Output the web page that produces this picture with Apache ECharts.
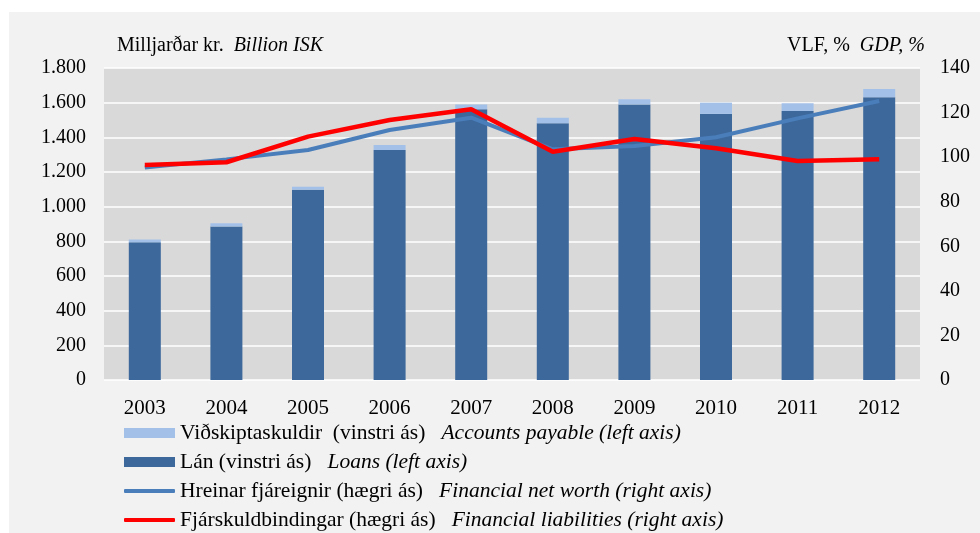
<!DOCTYPE html>
<html>
<head>
<meta charset="utf-8">
<script src="https://cdn.jsdelivr.net/npm/echarts@6/dist/echarts.min.js"></script>
<style>
html,body{margin:0;padding:0;background:#fff;}
#c{width:980px;height:533px;}
</style>
</head>
<body>
<div id="c"></div>
<script>
const years = ['2003','2004','2005','2006','2007','2008','2009','2010','2011','2012'];
const loans = [795, 885, 1098, 1327, 1562, 1481, 1590, 1535, 1552, 1631];
const accountsPayable = [15, 20, 17, 29, 28, 32, 29, 65, 44, 48];
const netWorth = [95.4, 99.0, 103.2, 112.2, 117.7, 103.5, 105.0, 108.9, 117.4, 125.2];
const liabilities = [96.5, 97.7, 109.2, 116.7, 121.5, 102.4, 108.1, 104.0, 98.3, 99.0];

const seriesNames = ['Viðskiptaskuldir  (vinstri ás)', 'Lán (vinstri ás)', 'Hreinar fjáreignir (hægri ás)', 'Fjárskuldbindingar (hægri ás)'];
const seriesNamesEn = ['Accounts payable (left axis)', 'Loans (left axis)', 'Financial net worth (right axis)', 'Financial liabilities (right axis)'];
const leftTitle = ['Milljarðar kr.', 'Billion ISK'];
const rightTitle = ['VLF, %', 'GDP, %'];

const FONT = '"Liberation Serif", "Times New Roman", serif';
const chart = echarts.init(document.getElementById('c'), null, {renderer: 'canvas'});

function fmtThousands(v) {
  return String(v).replace(/\B(?=(\d{3})+(?!\d))/g, '.');
}

const legendText = {
  fontFamily: FONT, fontSize: 21.5, color: '#000', lineHeight: 24,
  rich: {
    r: {fontFamily: FONT, fontSize: 21.5, color: '#000', lineHeight: 24},
    i: {fontFamily: FONT, fontSize: 21.5, color: '#000', fontStyle: 'italic', lineHeight: 24}
  }
};
function legendFmt(name) {
  const i = seriesNames.indexOf(name);
  return '{r|' + name + '}   {i|' + seriesNamesEn[i] + '}';
}
const titleRich = {
  r: {fontFamily: FONT, fontSize: 20, fill: '#000'},
  i: {fontFamily: FONT, fontSize: 20, fontStyle: 'italic', fill: '#000'}
};

chart.setOption({
  animation: false,
  backgroundColor: '#ffffff',
  textStyle: {fontFamily: FONT, color: '#000'},
  graphic: [
    {type: 'rect', z: -100, shape: {x: 9, y: 12, width: 971, height: 521}, style: {fill: '#f2f2f2'}, silent: true},
    {type: 'text', left: 117, top: 36, style: {
      text: '{r|' + leftTitle[0] + '}   {i|' + leftTitle[1] + '}', rich: titleRich
    }},
    {type: 'text', right: 55, top: 36, style: {
      text: '{r|' + rightTitle[0] + '}   {i|' + rightTitle[1] + '}', rich: titleRich
    }}
  ],
  grid: {left: 104, right: 60, top: 68, bottom: 153, show: true, backgroundColor: '#d9d9d9', borderWidth: 0},
  legend: [
    {
      orient: 'vertical', left: 124, top: 421, padding: 0,
      itemWidth: 51, itemHeight: 10, itemGap: 5,
      data: [{name: seriesNames[0], icon: 'rect'}, {name: seriesNames[1], icon: 'rect'}],
      formatter: legendFmt, textStyle: legendText
    },
    {
      orient: 'vertical', left: 124, top: 479, padding: 0,
      itemWidth: 51, itemHeight: 4, itemGap: 5,
      data: [{name: seriesNames[2], icon: 'roundRect'}, {name: seriesNames[3], icon: 'roundRect'}],
      formatter: legendFmt, textStyle: legendText
    }
  ],
  xAxis: {
    type: 'category',
    data: years,
    axisLine: {show: false},
    axisTick: {show: false},
    axisLabel: {fontFamily: FONT, fontSize: 21, color: '#000', margin: 18}
  },
  yAxis: [
    {
      type: 'value', min: 0, max: 1800, interval: 200,
      axisLine: {show: false}, axisTick: {show: false},
      splitLine: {show: true, lineStyle: {color: '#ffffff', width: 1.5}},
      axisLabel: {fontFamily: FONT, fontSize: 20, color: '#000', margin: 18, formatter: fmtThousands}
    },
    {
      type: 'value', min: 0, max: 140, interval: 20,
      axisLine: {show: false}, axisTick: {show: false},
      splitLine: {show: false},
      axisLabel: {fontFamily: FONT, fontSize: 20, color: '#000', margin: 20}
    }
  ],
  series: [
    {
      name: seriesNames[1], type: 'bar', stack: 'a', yAxisIndex: 0, barWidth: 32,
      data: loans, itemStyle: {color: '#3c689c'}
    },
    {
      name: seriesNames[0], type: 'bar', stack: 'a', yAxisIndex: 0, barWidth: 32,
      data: accountsPayable, itemStyle: {color: '#a3c1e8'}
    },
    {
      name: seriesNames[2], type: 'line', yAxisIndex: 1, symbol: 'none',
      data: netWorth, lineStyle: {color: '#4a7ebb', width: 4}, itemStyle: {color: '#4a7ebb'}
    },
    {
      name: seriesNames[3], type: 'line', yAxisIndex: 1, symbol: 'none',
      data: liabilities, lineStyle: {color: '#ff0000', width: 4.5}, itemStyle: {color: '#ff0000'}
    }
  ]
});
</script>
</body>
</html>
